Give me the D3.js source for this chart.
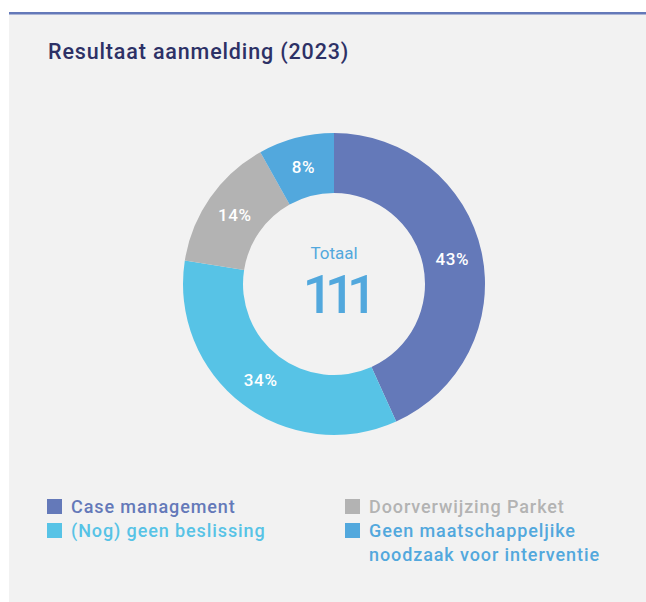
<!DOCTYPE html>
<html>
<head>
<meta charset="utf-8">
<script src="https://cdn.jsdelivr.net/npm/d3@7"></script>
<style>
  html, body { margin: 0; padding: 0; background: #ffffff; }
  svg { display: block; }
  text { font-family: Roboto, "Noto Sans", sans-serif; }
</style>
</head>
<body>
<svg id="chart" width="646" height="602"></svg>
<script>
const title = "Resultaat aanmelding (2023)";
const categories = ["Case management", "(Nog) geen beslissing", "Doorverwijzing Parket", "Geen maatschappeljike\nnoodzaak voor interventie"];
const values = [48, 38, 16, 9];
const colors = ["#6479b9", "#57c3e6", "#b3b3b3", "#52a8dd"];
const centerLabel = "Totaal";

const W = 646, H = 602;
const svg = d3.select("#chart");

svg.append("rect").attr("x", 0).attr("y", 0).attr("width", W).attr("height", H).attr("fill", "#ffffff");
svg.append("rect").attr("x", 9).attr("y", 12).attr("width", W - 9).attr("height", H - 12).attr("fill", "#f2f2f2");
svg.append("rect").attr("x", 9).attr("y", 12).attr("width", W - 9).attr("height", 2.5).attr("fill", "#6479b9");

svg.append("text")
  .attr("x", 48).attr("y", 59)
  .attr("font-size", 21.5).attr("font-weight", 500)
  .attr("letter-spacing", 0.85)
  .attr("fill", "#2d3166")
  .text(title);

const total = d3.sum(values);
const data = categories.map((c, i) => ({ cat: c, value: values[i], color: colors[i] }));

const cx = 334, cy = 284, rOuter = 151, rInner = 91;
const pie = d3.pie().value(d => d.value).sort(null);
const arc = d3.arc().innerRadius(rInner).outerRadius(rOuter);
const labelArc = d3.arc().innerRadius((rInner + rOuter) / 2).outerRadius((rInner + rOuter) / 2);

const g = svg.append("g").attr("transform", `translate(${cx},${cy})`);
const arcs = pie(data);
g.selectAll("path.slice").data(arcs).join("path")
  .attr("class", "slice")
  .attr("d", arc)
  .attr("fill", d => d.data.color);

g.selectAll("text.pct").data(arcs).join("text")
  .attr("class", "pct")
  .attr("transform", d => `translate(${labelArc.centroid(d)})`)
  .attr("text-anchor", "middle")
  .attr("dy", "0.36em")
  .attr("font-size", 17).attr("font-weight", 500)
  .attr("letter-spacing", 0.6)
  .attr("fill", "#ffffff")
  .text(d => Math.round(d.data.value / total * 100) + "%");

g.append("text")
  .attr("x", 0).attr("y", -25)
  .attr("text-anchor", "middle")
  .attr("font-size", 17).attr("font-weight", 400)
  .attr("fill", "#52a8dd")
  .text(centerLabel);

g.append("text")
  .attr("x", 2).attr("y", 29)
  .attr("text-anchor", "middle")
  .attr("font-size", 53).attr("font-weight", 500)
  .attr("letter-spacing", -8)
  .attr("fill", "#52a8dd")
  .text(total);

// legend
const colX = [47, 345];
const rowBase = 513, lineH = 24;
const legendPos = [[0, 0], [0, 1], [1, 0], [1, 1]];
const lg = svg.append("g");
data.forEach((d, i) => {
  const [c, r] = legendPos[i];
  const x = colX[c], y = rowBase + r * lineH;
  lg.append("rect").attr("x", x).attr("y", y - 14).attr("width", 15).attr("height", 15).attr("fill", d.color);
  const t = lg.append("text").attr("x", x + 24).attr("y", y)
    .attr("font-size", 18).attr("font-weight", 500)
    .attr("letter-spacing", 0.9)
    .attr("fill", d.color);
  d.cat.split("\n").forEach((line, k) => {
    t.append("tspan").attr("x", x + 24).attr("y", y + k * lineH).text(line);
  });
});
</script>
</body>
</html>
